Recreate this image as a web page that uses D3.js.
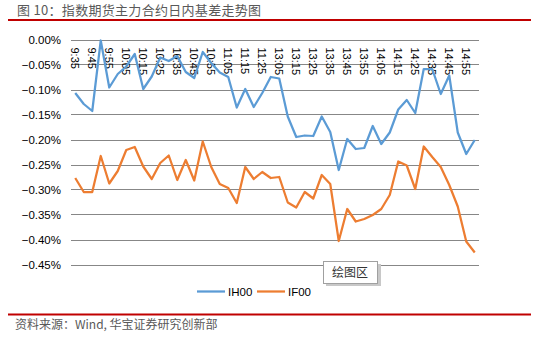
<!DOCTYPE html>
<html><head><meta charset="utf-8">
<script src="https://cdn.jsdelivr.net/npm/d3@7/dist/d3.min.js"></script>
<style>body{margin:0;background:#fff}svg{display:block}</style>
</head><body>
<script>
const categories = ["9:35","9:40","9:45","9:50","9:55","10:00","10:05","10:10","10:15","10:20","10:25","10:30","10:35","10:40","10:45","10:50","10:55","11:00","11:05","11:10","11:15","11:20","11:25","11:30",
"13:05","13:10","13:15","13:20","13:25","13:30","13:35","13:40","13:45","13:50","13:55","14:00","14:05","14:10","14:15","14:20","14:25","14:30","14:35","14:40","14:45","14:50","14:55","15:00"];
const IH00 = [-0.107,-0.129,-0.143,-0.002,-0.096,-0.069,-0.054,-0.029,-0.099,-0.074,-0.036,-0.043,-0.033,-0.065,-0.077,-0.025,
-0.047,-0.066,-0.075,-0.136,-0.099,-0.135,-0.107,-0.075,-0.078,-0.154,-0.195,-0.192,-0.193,-0.154,-0.185,-0.261,
-0.199,-0.219,-0.217,-0.173,-0.209,-0.186,-0.140,-0.121,-0.147,-0.059,-0.059,-0.109,-0.072,-0.186,-0.229,-0.201];
const IF00 = [-0.277,-0.305,-0.305,-0.233,-0.288,-0.263,-0.221,-0.215,-0.254,-0.279,-0.247,-0.232,-0.281,-0.241,-0.282,-0.204,
-0.255,-0.289,-0.297,-0.327,-0.255,-0.279,-0.265,-0.277,-0.275,-0.326,-0.336,-0.305,-0.318,-0.271,-0.289,-0.403,
-0.339,-0.364,-0.359,-0.351,-0.339,-0.311,-0.244,-0.252,-0.299,-0.214,-0.235,-0.255,-0.291,-0.334,-0.404,-0.426];
const yTicks = [0,-0.05,-0.10,-0.15,-0.20,-0.25,-0.30,-0.35,-0.40,-0.45];
const xTickLabels = categories.filter((d,i)=>i%2===0);
const seriesNames = ["IH00","IF00"];
const colors = ["#5B9BD5","#ED7D31"];
const titleText = "图 10：指数期货主力合约日内基差走势图";
const sourceText = "资料来源：Wind, 华宝证券研究创新部";

(function(){
const W=539,H=337;
const svg=d3.select("body").append("svg").attr("width",W).attr("height",H);
const pL=71,pR=479,pT=39.5,pB=264.5;
const x=d3.scaleBand().domain(categories).range([pL,pR]);
const y=d3.scaleLinear().domain([-0.45,0]).range([pB,pT]);

// title
svg.append("text").attr("x",17).attr("y",15).attr("font-family","'Noto Sans CJK SC'").attr("font-size",13).attr("fill","#595959").attr("letter-spacing",0.3).text(titleText);
svg.append("line").attr("x1",8).attr("x2",531).attr("y1",20).attr("y2",20).attr("stroke","#C00000").attr("stroke-width",2);

// grid
svg.append("g").selectAll("line").data(yTicks).join("line")
 .attr("x1",pL).attr("x2",pR).attr("y1",d=>Math.round(y(d))+0.5).attr("y2",d=>Math.round(y(d))+0.5)
 .attr("stroke","#878787").attr("stroke-width",1);

// y axis labels
const yAxis=d3.axisLeft(y).tickValues(yTicks).tickSize(0).tickPadding(10).tickFormat(d=>d3.format(".2f")(d)+"%");
const ya=svg.append("g").attr("transform",`translate(${pL},0)`).call(yAxis);
ya.select(".domain").remove();
ya.selectAll("text").attr("font-family","'Liberation Sans',Arial,sans-serif").attr("font-size",11.5).attr("fill","#000").attr("dy","0.35em");

// x axis labels
const xAxis=d3.axisTop(x).tickValues(xTickLabels).tickSize(0).tickFormat(d=>d);
const xa=svg.append("g").attr("transform",`translate(0,${pT})`).call(xAxis);
xa.select(".domain").remove();
xa.selectAll("text").attr("font-family","'Liberation Sans',Arial,sans-serif").attr("font-size",11).attr("fill","#000")
 .attr("text-anchor","start").attr("transform","translate(0,8) rotate(90)").attr("x",0).attr("y",0).attr("dy","0.35em");

// lines
const line=d3.line().x((d,i)=>x(categories[i])+x.bandwidth()/2).y(d=>y(d));
[IH00,IF00].forEach((s,k)=>{
  svg.append("path").datum(s).attr("d",line).attr("fill","none").attr("stroke",colors[k]).attr("stroke-width",2.25).attr("stroke-linejoin","round");
});

// tooltip box
const tb=svg.append("g");
tb.append("rect").attr("x",326).attr("y",264).attr("width",55).attr("height",22).attr("fill","#c8c8c8");
tb.append("rect").attr("x",323.5).attr("y",261.5).attr("width",54).attr("height",22).attr("fill","#fff").attr("stroke","#a0a0a0").attr("stroke-width",1);
tb.append("text").attr("x",332).attr("y",277).attr("font-family","'Noto Sans CJK SC'").attr("font-size",12).attr("fill","#333").text("绘图区");

// legend
const lg=svg.append("g");
const lx=[197,257];
seriesNames.forEach((n,k)=>{
  lg.append("line").attr("x1",lx[k]).attr("x2",lx[k]+28).attr("y1",291.5).attr("y2",291.5).attr("stroke",colors[k]).attr("stroke-width",2.25);
  lg.append("text").attr("x",lx[k]+31).attr("y",291.5).attr("dy","0.35em").attr("font-family","'Liberation Sans',Arial,sans-serif").attr("font-size",11.5).attr("fill","#000").text(n);
});

// bottom
svg.append("line").attr("x1",8).attr("x2",531).attr("y1",314.5).attr("y2",314.5).attr("stroke","#C00000").attr("stroke-width",2);
svg.append("text").attr("x",15).attr("y",329).attr("font-family","'Noto Sans CJK SC'").attr("font-size",12).attr("fill","#595959").text(sourceText);
})();
</script>
</body></html>
